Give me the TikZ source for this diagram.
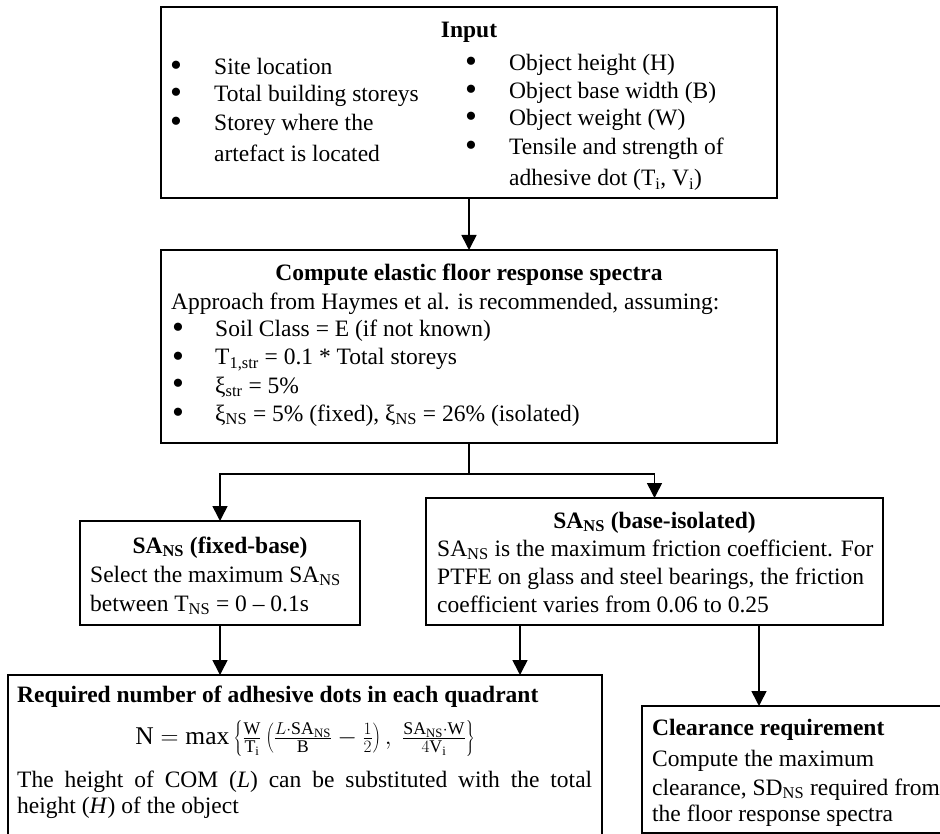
\documentclass[tikz,border=0pt]{standalone}
\usepackage{fontspec}
\setmainfont{Liberation Serif}
\usetikzlibrary{arrows.meta,calc}
\begin{document}
\begin{tikzpicture}[x=1pt,y=-1pt,
  box/.style={draw, line width=1.6pt, inner sep=0pt, outer sep=0pt},
  lin/.style={line width=1.6pt},
  conn/.style={line width=1.6pt, -{Triangle[width=15pt,length=15pt]}},
  tx/.style={anchor=base west, inner sep=0pt, font=\fontsize{23.5}{28}\selectfont},
  tb/.style={anchor=base, inner sep=0pt, font=\fontsize{23.5}{28}\selectfont\bfseries},
  tbl/.style={anchor=base west, inner sep=0pt, font=\fontsize{23.5}{28}\selectfont\bfseries},
  bul/.style={anchor=base, inner sep=0pt, font=\fontsize{34}{34}\selectfont}]
\useasboundingbox (0,0) rectangle (940,834);
\fill[white] (0,0) rectangle (940,834);
\clip (0,0) rectangle (940,834);

% boxes
\node[box, minimum width=616pt, minimum height=191pt] (input) at (469,102.5) {};
\node[box, minimum width=616pt, minimum height=193pt] (spec) at (469,346.5) {};
\node[box, minimum width=280pt, minimum height=104pt] (fixed) at (220,573) {};
\node[box, minimum width=457pt, minimum height=127pt] (iso) at (654.5,561.5) {};
\node[box, minimum width=594pt, minimum height=185pt] (req) at (305,767.5) {};
\node[box, minimum width=328pt, minimum height=127pt] (clear) at (806,769.5) {};

% connectors
\draw[conn] (input.south) -- (spec.north);
\draw[lin] (spec.south) -- ($(spec.south)+(0,31)$) coordinate (split);
\draw[conn] (split) -| (fixed.north);
\draw[conn] (split) -| (iso.north);
\draw[conn] (fixed.south) -- (fixed.south |- req.north);
\coordinate (isoL) at ($(iso.south west)+(94,0)$);
\coordinate (isoR) at ($(iso.south west)+(333,0)$);
\draw[conn] (isoL) -- (isoL |- req.north);
\draw[conn] (isoR) -- (isoR |- clear.north);

% Input
\node[tb] (inT) at (469,38) {Input};
\node[bul] (ib1) at (176,77) {•};
\node[tx] (il1) at (214,75) {Site location};
\node[bul] (ib2) at (176,104) {•};
\node[tx] (il2) at (214,102) {Total building storeys};
\node[bul] (ib3) at (176,133) {•};
\node[tx] (il3) at (214,131) {Storey where the};
\node[tx] (il4) at (214,162) {artefact is located};
\node[bul] (ib4) at (471,73) {•};
\node[tx] (ir1) at (509,71) {Object height (H)};
\node[bul] (ib5) at (471,101) {•};
\node[tx] (ir2) at (509,99) {Object base width (B)};
\node[bul] (ib6) at (471,128) {•};
\node[tx] (ir3) at (509,126) {Object weight (W)};
\node[bul] (ib7) at (471,157) {•};
\node[tx] (ir4) at (509,155) {Tensile and strength of};
\node[tx] (ir5) at (509,186) {adhesive dot (T\textsubscript{i}, V\textsubscript{i})};

% Spectra
\node[tb] (spT) at (469,281) {Compute elastic floor response spectra};
\node[tx] (sp0) at (171,310) {Approach from Haymes et al. is recommended, assuming:};
\node[bul] (sb1) at (178,339) {•};
\node[tx] (sp1) at (215,337) {Soil Class = E (if not known)};
\node[bul] (sb2) at (178,367) {•};
\node[tx] (sp2) at (215,365) {T\textsubscript{1,str} = 0.1 * Total storeys};
\node[bul] (sb3) at (178,395) {•};
\node[tx] (sp3) at (215,393) {ξ\textsubscript{str} = 5\%};
\node[bul] (sb4) at (178,423) {•};
\node[tx] (sp4) at (215,421) {ξ\textsubscript{NS} = 5\% (fixed), ξ\textsubscript{NS} = 26\% (isolated)};

% Fixed-base
\node[tb] (fxT) at (220,553) {SA\textsubscript{NS} (fixed-base)};
\node[tx] (fx1) at (90,582) {Select the maximum SA\textsubscript{NS}};
\node[tx] (fx2) at (90,611) {between T\textsubscript{NS} = 0 – 0.1s};

% Base-isolated
\node[tb] (isT) at (654.5,528) {SA\textsubscript{NS} (base-isolated)};
\node[tx] (is1) at (437,556) {SA\textsubscript{NS} is the maximum friction coefficient. For};
\node[tx] (is2) at (437,584) {PTFE on glass and steel bearings, the friction};
\node[tx] (is3) at (437,612) {coefficient varies from 0.06 to 0.25};

% Required
\node[tbl] (rqT) at (17,702) {Required number of adhesive dots in each quadrant};
\node[inner sep=0pt, font=\fontsize{25.5}{30}\selectfont] (rqF) at (305,738)
  {$\mathrm{N} = \max\left\{\frac{\mathrm{W}}{\mathrm{T_i}}\left(\frac{L\cdot\mathrm{SA_{NS}}}{\mathrm{B}} - \frac{1}{2}\right),\ \frac{\mathrm{SA_{NS}}\cdot\mathrm{W}}{4\mathrm{V_i}}\right\}$};
\node[tx] (rq1) at (17,787) {\makebox[575pt][s]{The height of COM (\textit{L}) can be substituted with the total}};
\node[tx] (rq2) at (17,813) {height (\textit{H}) of the object};

% Clearance
\node[tbl] (clT) at (652,735) {Clearance requirement};
\node[tx] (cl1) at (652,766) {Compute the maximum};
\node[tx] (cl2) at (652,795) {clearance, SD\textsubscript{NS} required from};
\node[tx] (cl3) at (652,821) {the floor response spectra};
\end{tikzpicture}
\end{document}
